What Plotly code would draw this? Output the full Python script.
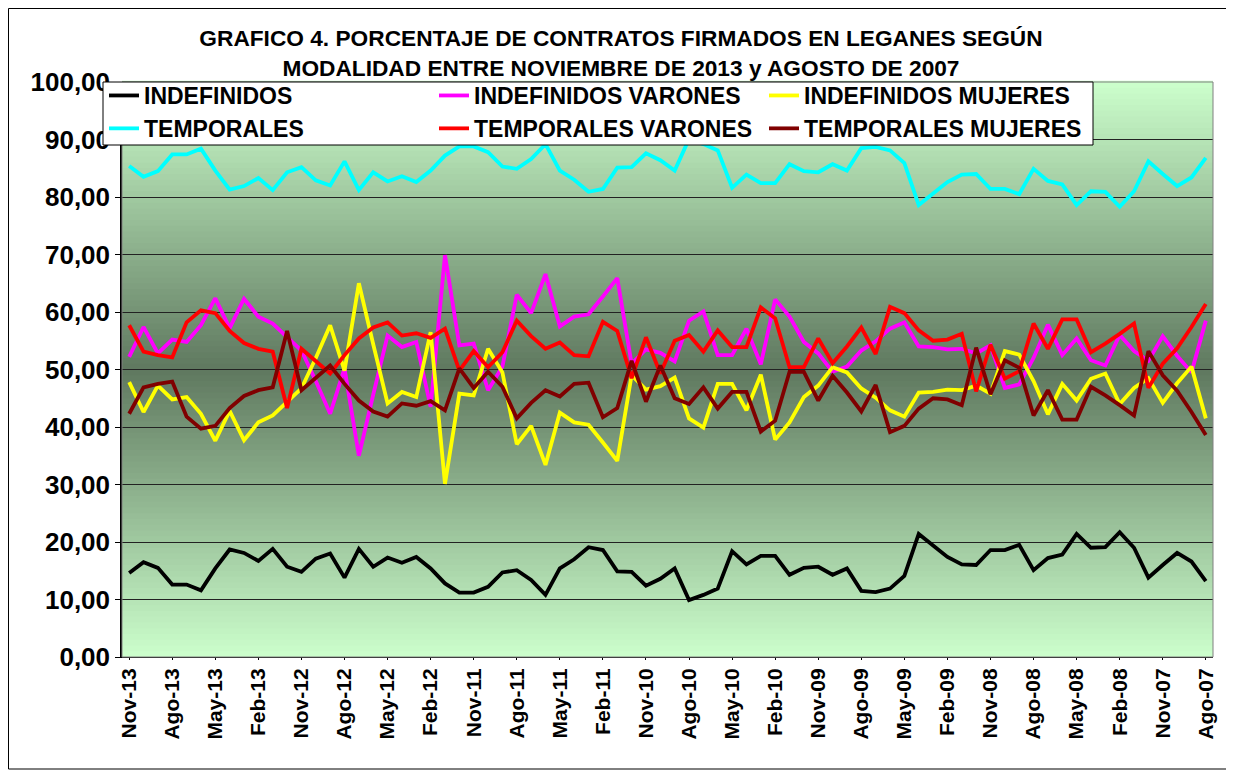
import plotly.graph_objects as go

categories = [
    "Nov-13", "Oct-13", "Sep-13", "Ago-13", "Jul-13", "Jun-13", "May-13", "Abr-13", "Mar-13", "Feb-13", "Ene-13", "Dic-12",
    "Nov-12", "Oct-12", "Sep-12", "Ago-12", "Jul-12", "Jun-12", "May-12", "Abr-12", "Mar-12", "Feb-12", "Ene-12", "Dic-11",
    "Nov-11", "Oct-11", "Sep-11", "Ago-11", "Jul-11", "Jun-11", "May-11", "Abr-11", "Mar-11", "Feb-11", "Ene-11", "Dic-10",
    "Nov-10", "Oct-10", "Sep-10", "Ago-10", "Jul-10", "Jun-10", "May-10", "Abr-10", "Mar-10", "Feb-10", "Ene-10", "Dic-09",
    "Nov-09", "Oct-09", "Sep-09", "Ago-09", "Jul-09", "Jun-09", "May-09", "Abr-09", "Mar-09", "Feb-09", "Ene-09", "Dic-08",
    "Nov-08", "Oct-08", "Sep-08", "Ago-08", "Jul-08", "Jun-08", "May-08", "Abr-08", "Mar-08", "Feb-08", "Ene-08", "Dic-07",
    "Nov-07", "Oct-07", "Sep-07", "Ago-07",
]

indefinidos = [
    14.6, 16.5, 15.5, 12.6, 12.6, 11.6, 15.4, 18.7, 18.1, 16.7,
    18.8, 15.7, 14.8, 17.1, 18.0, 13.8, 18.8, 15.7, 17.3, 16.4,
    17.4, 15.4, 12.8, 11.2, 11.2, 12.2, 14.7, 15.1, 13.4, 10.8,
    15.4, 17.0, 19.1, 18.6, 14.9, 14.8, 12.4, 13.6, 15.4, 9.9,
    10.8, 11.9, 18.4, 16.1, 17.6, 17.6, 14.3, 15.5, 15.7, 14.3,
    15.4, 11.5, 11.3, 11.9, 14.1, 21.4, 19.4, 17.4, 16.1, 16.0,
    18.6, 18.6, 19.5, 15.1, 17.2, 17.8, 21.4, 19.0, 19.1, 21.7,
    19.0, 13.8, 16.0, 18.1, 16.6, 13.2,
]

temporales = [
    85.4, 83.5, 84.5, 87.4, 87.4, 88.4, 84.6, 81.3, 81.9, 83.3,
    81.2, 84.3, 85.2, 82.9, 82.0, 86.2, 81.2, 84.3, 82.7, 83.6,
    82.6, 84.6, 87.2, 88.8, 88.8, 87.8, 85.3, 84.9, 86.6, 89.2,
    84.6, 83.0, 80.9, 81.4, 85.1, 85.2, 87.6, 86.4, 84.6, 90.1,
    89.2, 88.1, 81.6, 83.9, 82.4, 82.4, 85.7, 84.5, 84.3, 85.7,
    84.6, 88.5, 88.7, 88.1, 85.9, 78.6, 80.6, 82.6, 83.9, 84.0,
    81.4, 81.4, 80.5, 84.9, 82.8, 82.2, 78.6, 81.0, 80.9, 78.3,
    81.0, 86.2, 84.0, 81.9, 83.4, 86.8,
]

indef_varones = [
    52.2, 57.4, 52.8, 55.2, 54.8, 57.7, 62.4, 57.2, 62.3, 59.2,
    58.0, 55.6, 53.3, 48.0, 42.3, 50.2, 35.0, 45.6, 55.9, 53.9,
    54.8, 43.5, 69.9, 54.2, 54.5, 46.4, 50.5, 63.0, 59.8, 66.6,
    57.5, 59.2, 59.6, 62.7, 65.9, 51.0, 53.5, 52.9, 51.4, 58.5,
    60.1, 52.5, 52.5, 57.1, 50.9, 62.2, 59.2, 54.8, 52.8, 49.6,
    50.5, 53.3, 54.9, 57.1, 58.2, 54.0, 53.9, 53.5, 53.6, 52.8,
    54.2, 46.8, 47.4, 52.0, 57.8, 52.5, 55.4, 51.6, 50.7, 56.0,
    53.2, 51.5, 55.8, 52.4, 49.5, 58.5,
]

indef_mujeres = [
    47.8, 42.6, 47.2, 44.8, 45.2, 42.3, 37.6, 42.8, 37.7, 40.8,
    42.0, 44.4, 46.7, 52.0, 57.7, 49.8, 65.0, 54.4, 44.1, 46.1,
    45.2, 56.5, 30.1, 45.8, 45.5, 53.6, 49.5, 37.0, 40.2, 33.4,
    42.5, 40.8, 40.4, 37.3, 34.1, 49.0, 46.5, 47.1, 48.6, 41.5,
    39.9, 47.5, 47.5, 42.9, 49.1, 37.8, 40.8, 45.2, 47.2, 50.4,
    49.5, 46.7, 45.1, 42.9, 41.8, 46.0, 46.1, 46.5, 46.4, 47.2,
    45.8, 53.2, 52.6, 48.0, 42.2, 47.5, 44.6, 48.4, 49.3, 44.0,
    46.8, 48.5, 44.2, 47.6, 50.5, 41.5,
]

temp_varones = [
    57.7, 53.1, 52.5, 52.1, 58.2, 60.3, 59.8, 56.7, 54.6, 53.6,
    53.1, 43.3, 53.6, 51.5, 49.3, 52.5, 55.4, 57.3, 58.2, 55.9,
    56.3, 55.5, 57.1, 49.8, 53.2, 50.4, 53.0, 58.5, 55.8, 53.6,
    54.7, 52.5, 52.3, 58.3, 56.7, 48.5, 55.6, 49.3, 55.0, 56.0,
    53.1, 56.8, 53.9, 53.9, 60.8, 58.9, 50.4, 50.4, 55.4, 51.1,
    54.0, 57.3, 52.7, 60.9, 59.8, 56.8, 55.0, 55.2, 56.2, 46.2,
    54.3, 48.4, 49.7, 58.0, 53.6, 58.7, 58.7, 53.0, 54.5, 56.2,
    58.0, 46.8, 51.0, 53.7, 57.4, 61.4,
]

temp_mujeres = [
    42.3, 46.9, 47.5, 47.9, 41.8, 39.7, 40.2, 43.3, 45.4, 46.4,
    46.9, 56.7, 46.4, 48.5, 50.7, 47.5, 44.6, 42.7, 41.8, 44.1,
    43.7, 44.5, 42.9, 50.2, 46.8, 49.6, 47.0, 41.5, 44.2, 46.4,
    45.3, 47.5, 47.7, 41.7, 43.3, 51.5, 44.4, 50.7, 45.0, 44.0,
    46.9, 43.2, 46.1, 46.1, 39.2, 41.1, 49.6, 49.6, 44.6, 48.9,
    46.0, 42.7, 47.3, 39.1, 40.2, 43.2, 45.0, 44.8, 43.8, 53.8,
    45.7, 51.6, 50.3, 42.0, 46.4, 41.3, 41.3, 47.0, 45.5, 43.8,
    42.0, 53.2, 49.0, 46.3, 42.6, 38.6,
]

x_tick_labels = categories[::3]
y_tick_values = [0, 10, 20, 30, 40, 50, 60, 70, 80, 90, 100]
y_tick_labels = ["0,00", "10,00", "20,00", "30,00", "40,00", "50,00",
                 "60,00", "70,00", "80,00", "90,00", "100,00"]

# (name, values, colour, legend column)
series = [
    ("INDEFINIDOS", indefinidos, "#000000", "legend"),
    ("TEMPORALES", temporales, "#00FFFF", "legend"),
    ("INDEFINIDOS VARONES", indef_varones, "#FF00FF", "legend2"),
    ("TEMPORALES VARONES", temp_varones, "#FF0000", "legend2"),
    ("INDEFINIDOS MUJERES", indef_mujeres, "#FFFF00", "legend3"),
    ("TEMPORALES MUJERES", temp_mujeres, "#800000", "legend3"),
]
draw_order = [0, 2, 4, 1, 3, 5]

FONT = "Liberation Sans, Arial, sans-serif"

# figure geometry (page has an 8px body margin)
W, H = 1226, 762
ML, MR, MT, MB = 114, 21, 74, 113
PW, PH = W - ML - MR, H - MT - MB


def px_x(p):  # page x pixel -> paper fraction
    return (p - 8 - ML) / PW


def px_y(p):  # page y pixel -> paper fraction
    return (H - MB - (p - 8)) / PH


fig = go.Figure()
for k in draw_order:
    name, vals, col, lg = series[k]
    fig.add_trace(go.Scatter(
        x=categories, y=vals, name=name, mode="lines", legend=lg,
        line=dict(color=col, width=3.8),
    ))

# vertical gradient background of the plot area (light edges, dark centre)
shapes = []
edge = (204, 255, 204)
centre = (95, 120, 95)
nb = 100
for i in range(nb):
    t = abs((i + 0.5) / nb - 0.5) / 0.5
    c = tuple(int(round(centre[k] + (edge[k] - centre[k]) * t)) for k in range(3))
    shapes.append(dict(type="rect", xref="x domain", yref="y domain",
                       x0=0, x1=1, y0=i / nb, y1=(i + 1) / nb + 0.002,
                       fillcolor="rgb(%d,%d,%d)" % c, line=dict(width=0),
                       layer="below"))
# plot-area border
shapes.append(dict(type="rect", xref="x domain", yref="y domain", x0=0, x1=1, y0=0, y1=1,
                   line=dict(color="#808080", width=1), fillcolor="rgba(0,0,0,0)", layer="above"))
# legend box
shapes.append(dict(type="rect", xref="paper", yref="paper",
                   x0=px_x(103), x1=px_x(1093), y0=px_y(145), y1=px_y(82),
                   line=dict(color="#000000", width=1), fillcolor="white", layer="above"))
# outer chart border
shapes.append(dict(type="rect", xref="paper", yref="paper",
                   x0=px_x(8.5), x1=px_x(1231), y0=px_y(769), y1=px_y(8.5),
                   line=dict(color="#000000", width=1), fillcolor="rgba(0,0,0,0)", layer="above"))

legend_common = dict(
    orientation="v", xanchor="left", yanchor="top", y=px_y(74),
    bgcolor="rgba(0,0,0,0)", borderwidth=0,
    font=dict(family=FONT, size=23, color="black", weight="bold"),
    itemwidth=30, tracegroupgap=0,
)

fig.update_layout(
    width=W, height=H,
    margin=dict(l=ML, r=MR, t=MT, b=MB),
    paper_bgcolor="white",
    plot_bgcolor="rgba(0,0,0,0)",
    font=dict(family=FONT, color="black"),
    title=dict(
        text="GRAFICO 4. PORCENTAJE DE CONTRATOS FIRMADOS EN LEGANES SEGÚN<br>"
             "MODALIDAD ENTRE NOVIEMBRE DE 2013 y AGOSTO DE 2007",
        font=dict(family=FONT, size=22.7, color="black", weight="bold"),
        x=(621 - 8) / W, xref="container", xanchor="center",
        y=1 - 38 / H, yref="container", yanchor="top",
    ),
    showlegend=True,
    legend=dict(legend_common, x=px_x(104)),
    legend2=dict(legend_common, x=px_x(434)),
    legend3=dict(legend_common, x=px_x(764)),
    shapes=shapes,
)

fig.update_xaxes(
    type="category", tickmode="array", tickvals=x_tick_labels, ticktext=x_tick_labels,
    tickangle=-90, tickfont=dict(family=FONT, size=21, color="black", weight="bold"),
    showgrid=False, showline=True, linecolor="#000000", linewidth=1,
    ticks="outside", ticklen=2, tickcolor="#000000",
    range=[-0.5, len(categories) - 0.5], zeroline=False,
)
fig.update_yaxes(
    range=[0, 100], tickmode="array", tickvals=y_tick_values, ticktext=y_tick_labels,
    tickfont=dict(family=FONT, size=26, color="black", weight="bold"),
    showgrid=True, gridcolor="#222222", gridwidth=1,
    showline=True, linecolor="#000000", linewidth=1.5,
    ticks="outside", ticklen=5, tickcolor="#000000", zeroline=False,
)

fig.write_html("out.html")
